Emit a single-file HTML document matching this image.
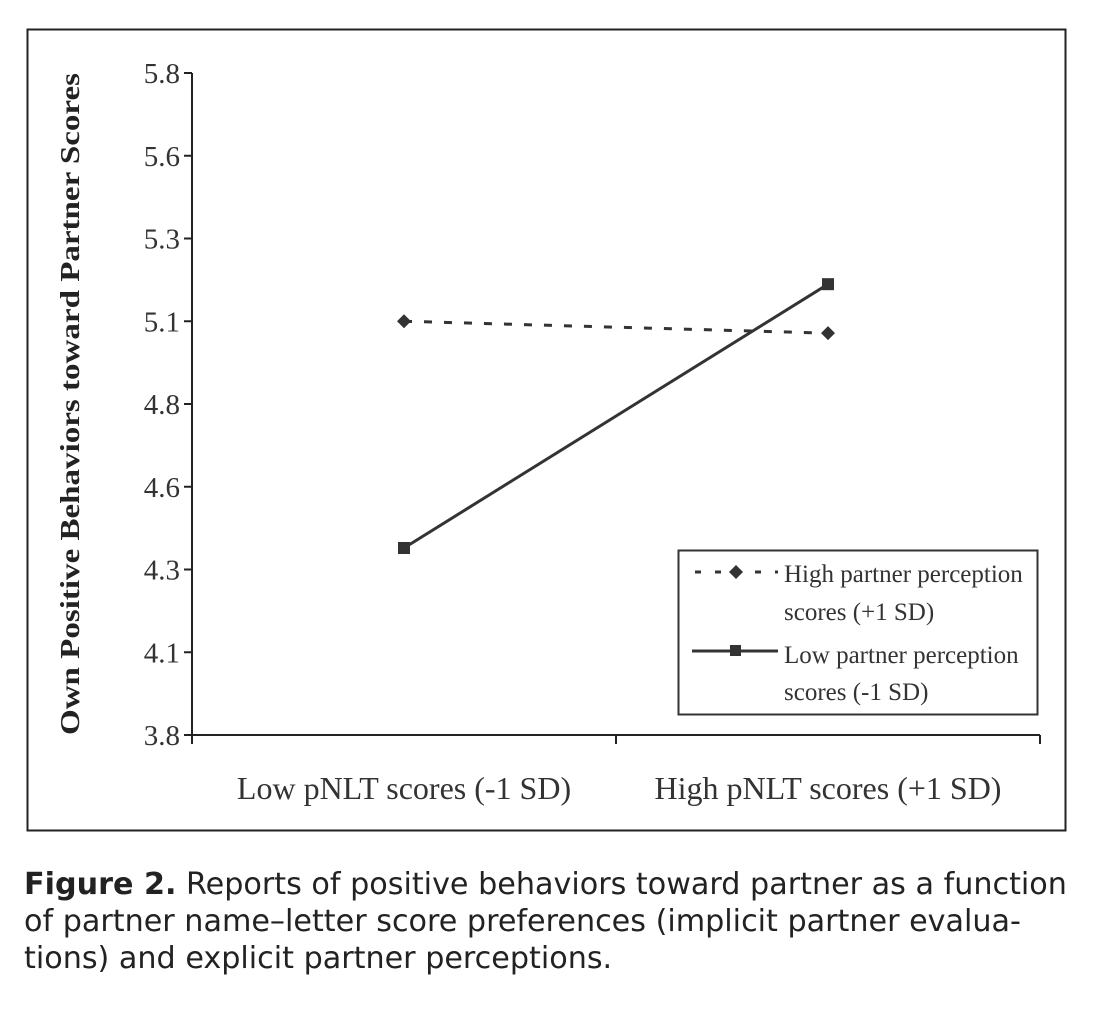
<!DOCTYPE html>
<html><head><meta charset="utf-8">
<style>
body{margin:0;background:#fff;width:1097px;height:1012px;overflow:hidden;}
.cap{position:absolute;left:24px;top:866px;font-family:"DejaVu Sans","Liberation Sans",sans-serif;font-size:30.2px;line-height:37px;color:#222;white-space:nowrap;}
</style></head><body>
<svg width="1097" height="850" style="position:absolute;left:0;top:0" font-family="Liberation Serif, serif">
<rect x="27.5" y="29.5" width="1038" height="801" fill="none" stroke="#222" stroke-width="2"/>
<g id="axes"></g>
<g id="marks"></g>
<g>
<rect x="678.5" y="550.5" width="359" height="164" fill="#fff" stroke="#333" stroke-width="2"/>
<line x1="695" y1="572" x2="778" y2="572" stroke="#333" stroke-width="3" stroke-dasharray="6,14"/>
<path d="M736 565 L743 572 L736 579 L729 572Z" fill="#333"/>
<text x="784" y="582" font-size="25" fill="#333">High partner perception</text>
<text x="784" y="620" font-size="25" fill="#333">scores (+1 SD)</text>
<line x1="692" y1="651" x2="778" y2="651" stroke="#333" stroke-width="3"/>
<rect x="730" y="645" width="11" height="11" fill="#333"/>
<text x="784" y="663" font-size="25" fill="#333">Low partner perception</text>
<text x="784" y="700" font-size="25" fill="#333">scores (-1 SD)</text>
</g>
<text transform="translate(79,404) rotate(-90)" text-anchor="middle" font-size="27" font-weight="bold" fill="#222" textLength="662" lengthAdjust="spacingAndGlyphs">Own Positive Behaviors toward Partner Scores</text>
</svg>
<div class="cap"><b>Figure 2.</b> Reports of positive behaviors toward partner as a function<br>of partner name–letter score preferences (implicit partner evalua-<br>tions) and explicit partner perceptions.</div>
<script>
const categories=["Low pNLT scores (-1 SD)","High pNLT scores (+1 SD)"];
const yTicks=["3.8","4.1","4.3","4.6","4.8","5.1","5.3","5.6","5.8"];
const highPerception=[5.05,5.014];
const lowPerception=[4.365,5.162];
const NS="http://www.w3.org/2000/svg";
const x0=192,x1=1040,yTop=73,yBot=735,yMin=3.8,yMax=5.8;
const y=v=>yBot-(v-yMin)/(yMax-yMin)*(yBot-yTop);
const xc=i=>x0+(i+0.5)*(x1-x0)/categories.length;
function mk(t,a,p){const e=document.createElementNS(NS,t);for(const k in a)e.setAttribute(k,a[k]);p.appendChild(e);return e;}
const ax=document.getElementById('axes'),mg=document.getElementById('marks');
let e=mk('line',{x1:x0,y1:yTop,x2:x0,y2:yBot,stroke:'#222','stroke-width':2},ax);


e=mk('line',{x1:x0,y1:yBot,x2:x1,y2:yBot,stroke:'#222','stroke-width':2},ax);


yTicks.forEach((t,i)=>{const yy=yBot-i*(yBot-yTop)/(yTicks.length-1);
mk('line',{x1:x0-8,y1:yy,x2:x0,y2:yy,stroke:'#222','stroke-width':2},ax);
const tx=mk('text',{x:x0-12,y:yy+10,'text-anchor':'end','font-size':29,fill:'#333'},ax);tx.textContent=t;

});
for(let i=0;i<=categories.length;i++){const xx=x0+i*(x1-x0)/categories.length;mk('line',{x1:xx,y1:yBot,x2:xx,y2:yBot+9,stroke:'#222','stroke-width':2},ax);}
categories.forEach((c,i)=>{const tx=mk('text',{x:xc(i),y:799,'text-anchor':'middle','font-size':32,fill:'#333'},ax);tx.textContent=c;

});
let l=mk('polyline',{points:highPerception.map((v,i)=>xc(i)+','+y(v)).join(' '),fill:'none',stroke:'#333','stroke-width':3,'stroke-dasharray':'8,12'},mg);


l=mk('polyline',{points:lowPerception.map((v,i)=>xc(i)+','+y(v)).join(' '),fill:'none',stroke:'#333','stroke-width':3},mg);


highPerception.forEach((v,i)=>{const cx=xc(i),cy=y(v);const p=mk('path',{d:`M${cx} ${cy-7}L${cx+7} ${cy}L${cx} ${cy+7}L${cx-7} ${cy}Z`,fill:'#333'},mg);

});
lowPerception.forEach((v,i)=>{const r=mk('rect',{x:xc(i)-6,y:y(v)-6,width:12,height:12,fill:'#333'},mg);

});
</script>
</body></html>
